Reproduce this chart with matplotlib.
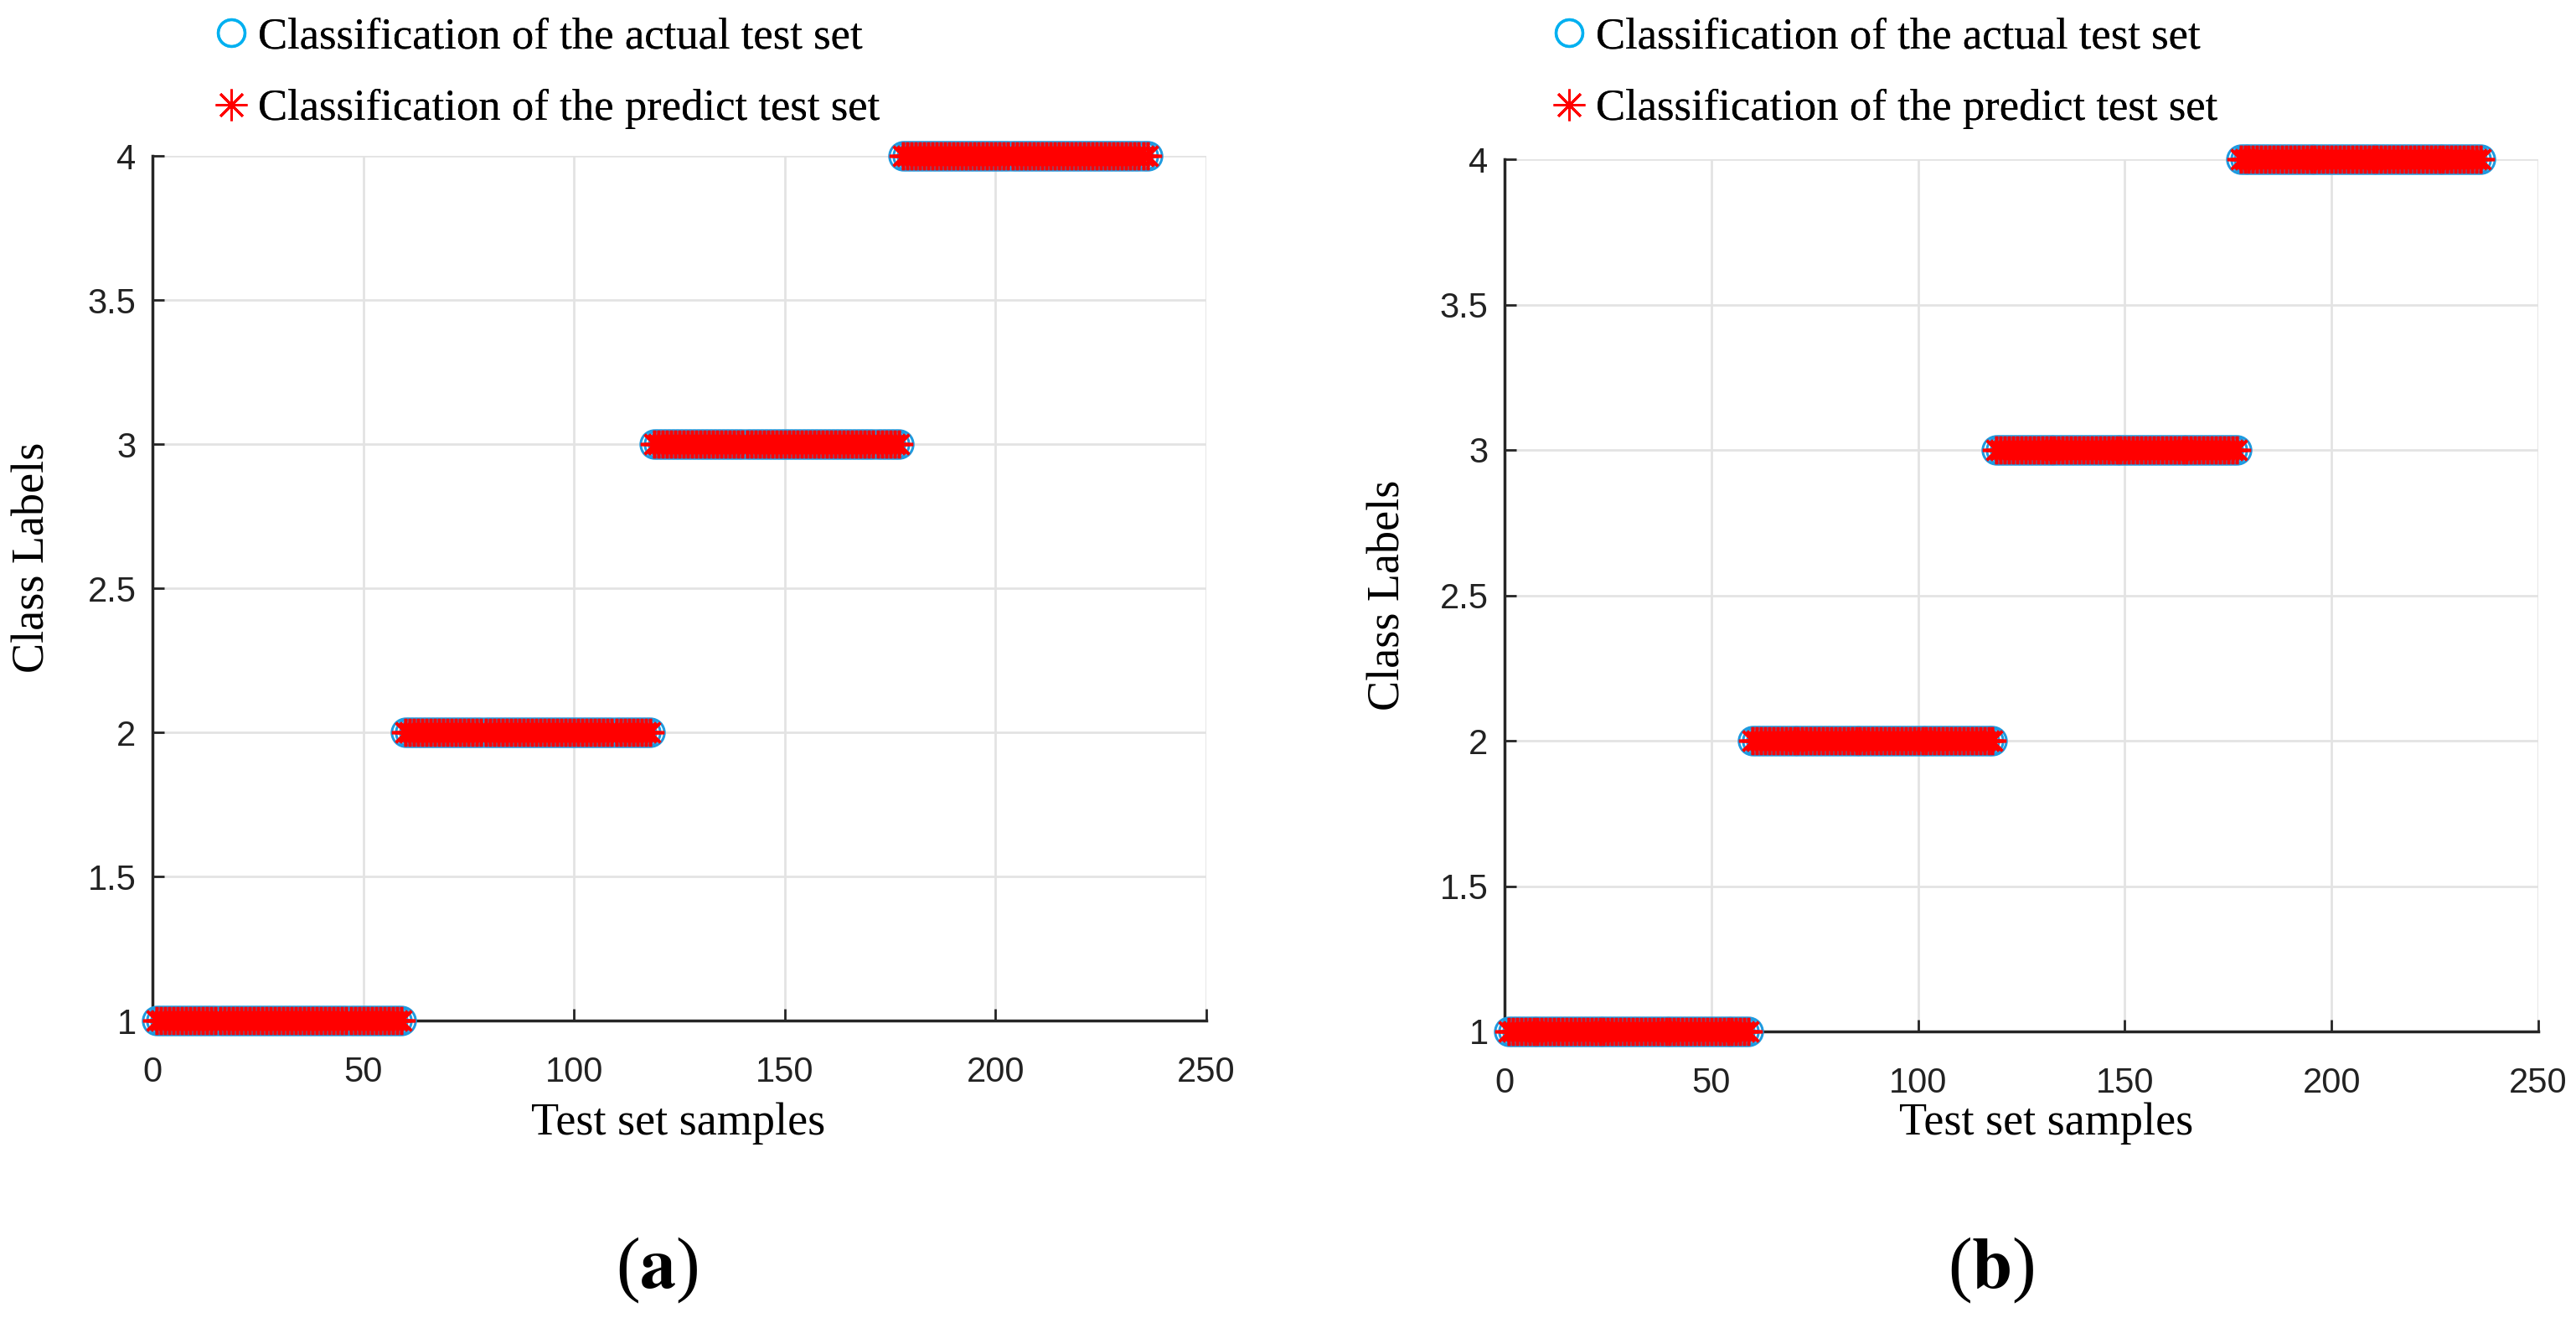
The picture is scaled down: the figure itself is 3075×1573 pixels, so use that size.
import numpy as np
import matplotlib
matplotlib.use("Agg")
import matplotlib.pyplot as plt
from matplotlib.lines import Line2D
from matplotlib.transforms import blended_transform_factory

# class sizes of the test set (both panels: every sample predicted correctly)
class_ids = [1, 2, 3, 4]
class_counts = [59, 59, 59, 59]

actual = np.repeat(class_ids, class_counts)
predict_a = actual.copy()
predict_b = actual.copy()
samples = np.arange(1, len(actual) + 1)

x_ticks = [0, 50, 100, 150, 200, 250]
y_ticks = [1, 1.5, 2, 2.5, 3, 3.5, 4]
y_tick_labels = ["1", "1.5", "2", "2.5", "3", "3.5", "4"]

serif = ["Liberation Serif", "DejaVu Serif"]
sans = ["Liberation Sans", "DejaVu Sans"]
plt.rcParams["mathtext.fontset"] = "stix"

W, H = 3075, 1573
fig = plt.figure(figsize=(W / 100, H / 100), dpi=100)
fig.patch.set_facecolor("white")

positions = [
    [182 / W, 1 - 1218 / H, (1440 - 182) / W, (1218 - 186) / H],
    [1796 / W, 1 - 1231 / H, (3030 - 1796) / W, (1231 - 190) / H],
]
predicts = [predict_a, predict_b]
panel_tags = ["a", "b"]
tag_x = [784 / W, 2377 / W]
legend_x = [234 / W, 1831 / W]
ylabel_x = [39 / W, 1657 / W]
ylabel_y = [0.536, 0.5]
xlabel_x = [810 / W, 2443 / W]
xlabel_y = 1 - 1341 / H

asterisk = (8, 2, 0)

for i in range(2):
    ax = fig.add_axes(positions[i])
    ax.plot(samples, actual, "o", color="#1E9BE0", markerfacecolor="none",
            markersize=24, markeredgewidth=2.2, clip_on=False, zorder=3)
    ax.plot(samples, predicts[i], marker=asterisk, linestyle="none", color="red",
            markersize=24, markeredgewidth=2.6, clip_on=False, zorder=4)
    ax.set_xlim(0, 250)
    ax.set_ylim(1, 4)
    ax.set_xticks(x_ticks)
    ax.set_yticks(y_ticks)
    ax.set_yticklabels(y_tick_labels)
    ax.grid(True, color="#e3e3e3", linewidth=2)
    ax.set_axisbelow(True)
    for s in ["top", "right"]:
        ax.spines[s].set_visible(False)
    for s in ["left", "bottom"]:
        ax.spines[s].set_color("#262626")
        ax.spines[s].set_linewidth(2.5)
    ax.tick_params(direction="in", length=10, width=2, color="#262626",
                   labelsize=30)
    ax.tick_params(axis="x", pad=30)
    ax.tick_params(axis="y", pad=14)
    for lab in ax.get_xticklabels() + ax.get_yticklabels():
        lab.set_family(sans)
        lab.set_color("#222222")
    ax.set_xlabel("Test set samples", family=serif, fontsize=39)
    ax.set_ylabel("Class Labels", family=serif, fontsize=39)
    ax.xaxis.set_label_coords(xlabel_x[i], xlabel_y, transform=fig.transFigure)
    ax.xaxis.label.set_va("center")
    ax.yaxis.set_label_coords(ylabel_x[i], ylabel_y[i],
                              transform=blended_transform_factory(fig.transFigure, ax.transAxes))
    ax.yaxis.label.set_va("center")

    h1 = Line2D([], [], linestyle="none", marker="o", color="#00B0F0",
                markerfacecolor="none", markersize=23, markeredgewidth=2.4)
    h2 = Line2D([], [], linestyle="none", marker=asterisk, color="red",
                markersize=27, markeredgewidth=2.0)
    leg = fig.legend(handles=[h1, h2],
                     labels=["Classification of the actual test set",
                             "Classification of the predict test set"],
                     loc="upper left", bbox_to_anchor=(legend_x[i], 1 + 6 / H),
                     frameon=False, prop={"family": serif, "size": 38},
                     handlelength=0.6, handletextpad=0.3, labelspacing=0.72,
                     borderpad=0)
    fig.add_artist(leg)

    fig.text(tag_x[i], 1 - 1516 / H, "(" + r"$\mathbf{" + panel_tags[i] + "}$" + ")",
             family=serif, fontsize=62, ha="center", va="center")

fig.savefig("out.png", dpi=100, facecolor="white")
